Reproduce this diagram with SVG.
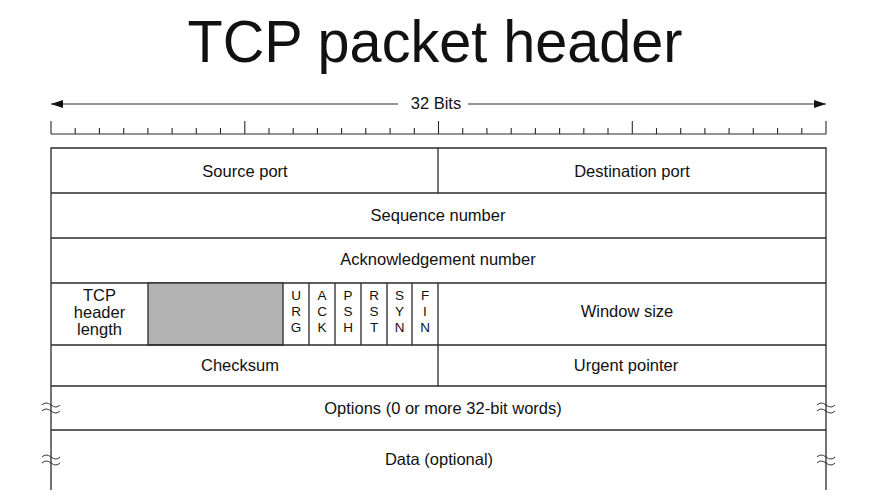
<svg xmlns="http://www.w3.org/2000/svg" width="874" height="504" viewBox="0 0 874 504">
<style>
text{font-family:"Liberation Sans",Arial,sans-serif;fill:#111;}
.t{font-size:16.5px;text-anchor:middle;}
.f{font-size:13.5px;text-anchor:middle;}
.ln{stroke:#2a2a2a;stroke-width:1.3;fill:none;}
.tk{stroke:#2a2a2a;stroke-width:1.1;fill:none;}
.brk{stroke:#333;stroke-width:1;fill:none;}
</style>
<defs>
<marker id="ah" viewBox="0 0 12 8" refX="12" refY="4" markerWidth="12" markerHeight="8" markerUnits="userSpaceOnUse" orient="auto">
<path d="M0,0 L12,4 L0,8 Z" fill="#111"/>
</marker>
</defs>
<text x="435" y="62" font-size="60" text-anchor="middle" textLength="495" lengthAdjust="spacingAndGlyphs">TCP packet header</text>
<g id="ruler">
<line class="tk" x1="398" y1="104" x2="51" y2="104" marker-end="url(#ah)"/>
<line class="tk" x1="468" y1="104" x2="826" y2="104" marker-end="url(#ah)"/>
<text x="436" y="109" class="t" font-size="15">32 Bits</text>
<path class="tk" d="M51,134 H826 M51,121 V134 M75.2,128 V134 M99.4,128 V134 M123.7,128 V134 M147.9,128 V134 M172.1,128 V134 M196.3,128 V134 M220.5,128 V134 M244.8,121 V134 M269,128 V134 M293.2,128 V134 M317.4,128 V134 M341.6,128 V134 M365.8,128 V134 M390.1,128 V134 M414.3,128 V134 M438.5,121 V134 M462.7,128 V134 M486.9,128 V134 M511.2,128 V134 M535.4,128 V134 M559.6,128 V134 M583.8,128 V134 M608,128 V134 M632.3,121 V134 M656.5,128 V134 M680.7,128 V134 M704.9,128 V134 M729.1,128 V134 M753.3,128 V134 M777.6,128 V134 M801.8,128 V134 M826,121 V134"/>
</g>
<g id="frame">
<path class="ln" d="M51,490 V148 H826 V490"/>
</g>
<g id="source-port"><path class="ln" d="M438,148 V193"/><text class="t" x="245" y="177">Source port</text></g>
<g id="destination-port"><text class="t" x="632" y="177">Destination port</text></g>
<g id="sequence-number"><path class="ln" d="M51,193 H826"/><text class="t" x="438" y="221">Sequence number</text></g>
<g id="ack-number"><path class="ln" d="M51,238 H826"/><text class="t" x="438" y="265">Acknowledgement number</text></g>
<g id="header-length"><path class="ln" d="M51,283 H826"/>
<text class="t" font-size="15"><tspan x="99.5" y="301">TCP</tspan><tspan x="99.5" y="318">header</tspan><tspan x="99.5" y="335">length</tspan></text></g>
<g id="reserved"><rect x="148" y="283" width="135" height="62" fill="#b3b3b3" stroke="#2a2a2a" stroke-width="1.3"/></g>
<g id="flags">
<path class="ln" d="M309,283 V345 M335,283 V345 M361,283 V345 M387,283 V345 M412,283 V345 M438,283 V345"/>
<text class="f"><tspan x="296" y="300">U</tspan><tspan x="296" y="316">R</tspan><tspan x="296" y="332">G</tspan></text>
<text class="f"><tspan x="322" y="300">A</tspan><tspan x="322" y="316">C</tspan><tspan x="322" y="332">K</tspan></text>
<text class="f"><tspan x="348" y="300">P</tspan><tspan x="348" y="316">S</tspan><tspan x="348" y="332">H</tspan></text>
<text class="f"><tspan x="374" y="300">R</tspan><tspan x="374" y="316">S</tspan><tspan x="374" y="332">T</tspan></text>
<text class="f"><tspan x="399.5" y="300">S</tspan><tspan x="399.5" y="316">Y</tspan><tspan x="399.5" y="332">N</tspan></text>
<text class="f"><tspan x="425" y="300">F</tspan><tspan x="425" y="316">I</tspan><tspan x="425" y="332">N</tspan></text>
</g>
<g id="window-size"><text class="t" x="627" y="317">Window size</text></g>
<g id="checksum"><path class="ln" d="M51,345 H826 M438,345 V386"/><text class="t" x="240" y="371">Checksum</text></g>
<g id="urgent-pointer"><text class="t" x="626" y="371">Urgent pointer</text></g>
<g id="options"><path class="ln" d="M51,386 H826"/><text class="t" x="443" y="414">Options (0 or more 32-bit words)</text>
<path class="brk" d="M42,405 q4,-4 9,0 t9,0 M42,411 q4,-4 9,0 t9,0 M817,405 q4,-4 9,0 t9,0 M817,411 q4,-4 9,0 t9,0"/></g>
<g id="data"><path class="ln" d="M51,430 H826"/><text class="t" x="439" y="465">Data (optional)</text>
<path class="brk" d="M42,457 q4,-4 9,0 t9,0 M42,463 q4,-4 9,0 t9,0 M817,457 q4,-4 9,0 t9,0 M817,463 q4,-4 9,0 t9,0"/></g>
</svg>
